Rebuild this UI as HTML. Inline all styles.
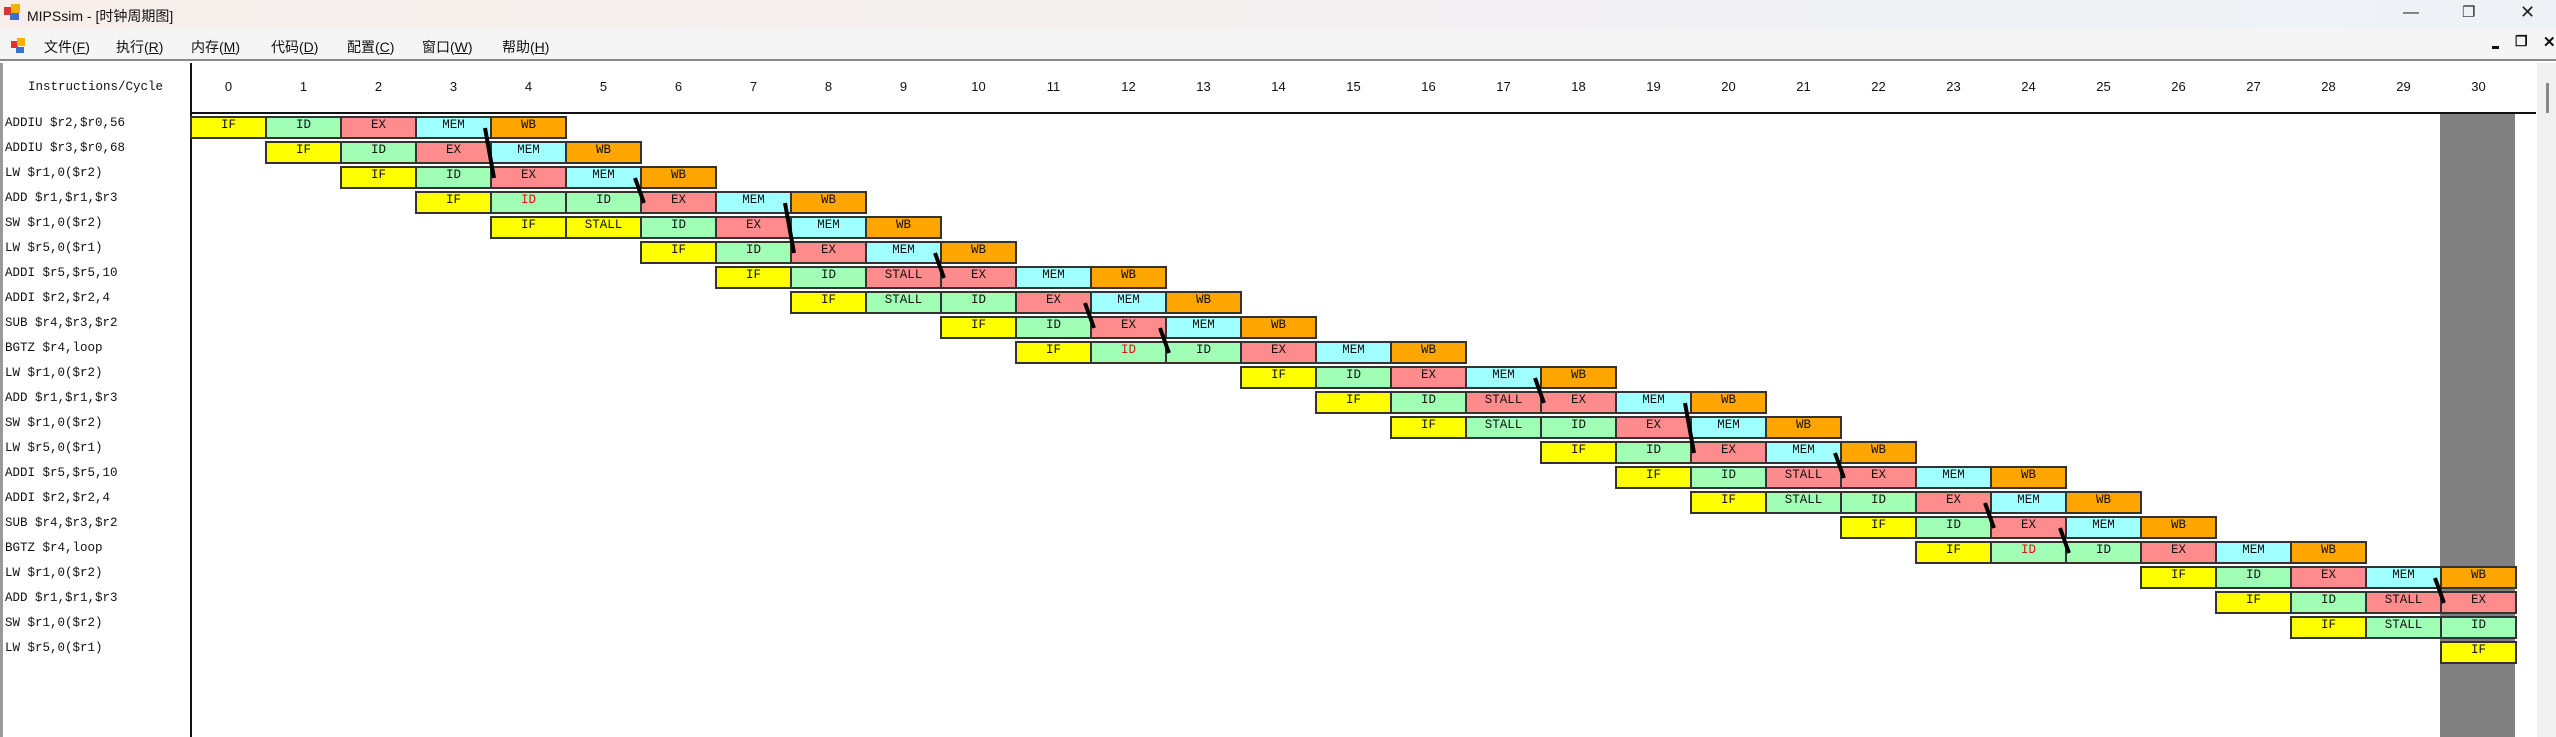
<!DOCTYPE html>
<html><head><meta charset="utf-8"><style>
*{margin:0;padding:0;box-sizing:border-box}
body{width:2556px;height:737px;position:relative;overflow:hidden;background:#fff;font-family:"Liberation Sans","Noto Sans CJK SC",sans-serif}
.tb{position:absolute;left:0;top:0;width:2556px;height:29px;background:linear-gradient(90deg,#f7eeea,#eef2f7)}
.mb{position:absolute;left:0;top:29px;width:2556px;height:32px;background:#f5f5f5;border-bottom:2px solid #8a8a8a}
.t{position:absolute;white-space:nowrap}
.mi{position:absolute;top:37px;font-size:14px;color:#111}
.r{position:absolute;left:0;width:2556px;height:23px}
.c{position:absolute;top:0;width:77px;height:23px;border:2px solid #333;text-align:center;line-height:19px;font:12.5px "Liberation Mono",monospace;color:#111}
.f{background:#ffff00}.d{background:#a0ffb4}.e{background:#ff8c8c}.m{background:#a0ffff}.w{background:#ffa500}
.red{color:#e01010}
.l{position:absolute;left:5px;top:0;line-height:23px;font:12.5px "Liberation Mono",monospace;color:#111;white-space:nowrap}
.n{position:absolute;top:79px;font-size:13px;color:#111;width:75px;text-align:center}
</style></head><body>
<div class="tb"></div>
<div style="position:absolute;left:4px;top:7px;width:8px;height:8px;background:#d33"></div>
<div style="position:absolute;left:11px;top:4px;width:9px;height:9px;background:#f5b000"></div>
<div style="position:absolute;left:10px;top:13px;width:9px;height:7px;background:#3a6fd0"></div>
<div class="t" style="left:27px;top:6px;font-size:14px;color:#111">MIPSsim - [时钟周期图]</div>
<div class="t" style="left:2403px;top:4px;font-size:16px;color:#222">—</div>
<div class="t" style="left:2462px;top:3px;font-size:15px;color:#222">❐</div>
<div class="t" style="left:2520px;top:2px;font-size:18px;color:#222">✕</div>
<div class="mb"></div>
<div style="position:absolute;left:11px;top:41px;width:7px;height:7px;background:#d33"></div>
<div style="position:absolute;left:17px;top:38px;width:8px;height:8px;background:#f5b000"></div>
<div style="position:absolute;left:16px;top:47px;width:8px;height:6px;background:#3a6fd0"></div>
<div class="mi" style="left:44px">文件(<u>F</u>)</div>
<div class="mi" style="left:116px">执行(<u>R</u>)</div>
<div class="mi" style="left:191px">内存(<u>M</u>)</div>
<div class="mi" style="left:271px">代码(<u>D</u>)</div>
<div class="mi" style="left:347px">配置(<u>C</u>)</div>
<div class="mi" style="left:422px">窗口(<u>W</u>)</div>
<div class="mi" style="left:502px">帮助(<u>H</u>)</div>
<div style="position:absolute;left:2492px;top:46px;width:7px;height:3px;background:#111"></div>
<div class="t" style="left:2515px;top:33px;font-size:14px;font-weight:bold;color:#111">❐</div>
<div class="t" style="left:2543px;top:33px;font-size:15px;font-weight:bold;color:#111">✕</div>
<!-- content -->
<div style="position:absolute;left:0;top:63px;width:3px;height:674px;background:#9a9a9a"></div>
<div style="position:absolute;left:2537px;top:63px;width:19px;height:674px;background:#f0f0f0"></div>
<div style="position:absolute;left:2546px;top:83px;width:3px;height:30px;background:#888"></div>
<div style="position:absolute;left:2440px;top:114px;width:75px;height:623px;background:#808080"></div>
<div style="position:absolute;left:190px;top:63px;width:2px;height:674px;background:#111"></div>
<div style="position:absolute;left:190px;top:112px;width:2346px;height:2px;background:#111"></div>
<div class="t" style="left:28px;top:80px;font:12.5px 'Liberation Mono',monospace;color:#111">Instructions/Cycle</div>
<div class="n" style="left:191px">0</div><div class="n" style="left:266px">1</div><div class="n" style="left:341px">2</div><div class="n" style="left:416px">3</div><div class="n" style="left:491px">4</div><div class="n" style="left:566px">5</div><div class="n" style="left:641px">6</div><div class="n" style="left:716px">7</div><div class="n" style="left:791px">8</div><div class="n" style="left:866px">9</div><div class="n" style="left:941px">10</div><div class="n" style="left:1016px">11</div><div class="n" style="left:1091px">12</div><div class="n" style="left:1166px">13</div><div class="n" style="left:1241px">14</div><div class="n" style="left:1316px">15</div><div class="n" style="left:1391px">16</div><div class="n" style="left:1466px">17</div><div class="n" style="left:1541px">18</div><div class="n" style="left:1616px">19</div><div class="n" style="left:1691px">20</div><div class="n" style="left:1766px">21</div><div class="n" style="left:1841px">22</div><div class="n" style="left:1916px">23</div><div class="n" style="left:1991px">24</div><div class="n" style="left:2066px">25</div><div class="n" style="left:2141px">26</div><div class="n" style="left:2216px">27</div><div class="n" style="left:2291px">28</div><div class="n" style="left:2366px">29</div><div class="n" style="left:2441px">30</div>

<div class="r" style="top:116px"><div class="l">ADDIU $r2,$r0,56</div><div class="c f" style="left:190px">IF</div><div class="c d" style="left:265px">ID</div><div class="c e" style="left:340px">EX</div><div class="c m" style="left:415px">MEM</div><div class="c w" style="left:490px">WB</div></div>
<div class="r" style="top:141px"><div class="l">ADDIU $r3,$r0,68</div><div class="c f" style="left:265px">IF</div><div class="c d" style="left:340px">ID</div><div class="c e" style="left:415px">EX</div><div class="c m" style="left:490px">MEM</div><div class="c w" style="left:565px">WB</div></div>
<div class="r" style="top:166px"><div class="l">LW $r1,0($r2)</div><div class="c f" style="left:340px">IF</div><div class="c d" style="left:415px">ID</div><div class="c e" style="left:490px">EX</div><div class="c m" style="left:565px">MEM</div><div class="c w" style="left:640px">WB</div></div>
<div class="r" style="top:191px"><div class="l">ADD $r1,$r1,$r3</div><div class="c f" style="left:415px">IF</div><div class="c d red" style="left:490px">ID</div><div class="c d" style="left:565px">ID</div><div class="c e" style="left:640px">EX</div><div class="c m" style="left:715px">MEM</div><div class="c w" style="left:790px">WB</div></div>
<div class="r" style="top:216px"><div class="l">SW $r1,0($r2)</div><div class="c f" style="left:490px">IF</div><div class="c f" style="left:565px">STALL</div><div class="c d" style="left:640px">ID</div><div class="c e" style="left:715px">EX</div><div class="c m" style="left:790px">MEM</div><div class="c w" style="left:865px">WB</div></div>
<div class="r" style="top:241px"><div class="l">LW $r5,0($r1)</div><div class="c f" style="left:640px">IF</div><div class="c d" style="left:715px">ID</div><div class="c e" style="left:790px">EX</div><div class="c m" style="left:865px">MEM</div><div class="c w" style="left:940px">WB</div></div>
<div class="r" style="top:266px"><div class="l">ADDI $r5,$r5,10</div><div class="c f" style="left:715px">IF</div><div class="c d" style="left:790px">ID</div><div class="c e" style="left:865px">STALL</div><div class="c e" style="left:940px">EX</div><div class="c m" style="left:1015px">MEM</div><div class="c w" style="left:1090px">WB</div></div>
<div class="r" style="top:291px"><div class="l">ADDI $r2,$r2,4</div><div class="c f" style="left:790px">IF</div><div class="c d" style="left:865px">STALL</div><div class="c d" style="left:940px">ID</div><div class="c e" style="left:1015px">EX</div><div class="c m" style="left:1090px">MEM</div><div class="c w" style="left:1165px">WB</div></div>
<div class="r" style="top:316px"><div class="l">SUB $r4,$r3,$r2</div><div class="c f" style="left:940px">IF</div><div class="c d" style="left:1015px">ID</div><div class="c e" style="left:1090px">EX</div><div class="c m" style="left:1165px">MEM</div><div class="c w" style="left:1240px">WB</div></div>
<div class="r" style="top:341px"><div class="l">BGTZ $r4,loop</div><div class="c f" style="left:1015px">IF</div><div class="c d red" style="left:1090px">ID</div><div class="c d" style="left:1165px">ID</div><div class="c e" style="left:1240px">EX</div><div class="c m" style="left:1315px">MEM</div><div class="c w" style="left:1390px">WB</div></div>
<div class="r" style="top:366px"><div class="l">LW $r1,0($r2)</div><div class="c f" style="left:1240px">IF</div><div class="c d" style="left:1315px">ID</div><div class="c e" style="left:1390px">EX</div><div class="c m" style="left:1465px">MEM</div><div class="c w" style="left:1540px">WB</div></div>
<div class="r" style="top:391px"><div class="l">ADD $r1,$r1,$r3</div><div class="c f" style="left:1315px">IF</div><div class="c d" style="left:1390px">ID</div><div class="c e" style="left:1465px">STALL</div><div class="c e" style="left:1540px">EX</div><div class="c m" style="left:1615px">MEM</div><div class="c w" style="left:1690px">WB</div></div>
<div class="r" style="top:416px"><div class="l">SW $r1,0($r2)</div><div class="c f" style="left:1390px">IF</div><div class="c d" style="left:1465px">STALL</div><div class="c d" style="left:1540px">ID</div><div class="c e" style="left:1615px">EX</div><div class="c m" style="left:1690px">MEM</div><div class="c w" style="left:1765px">WB</div></div>
<div class="r" style="top:441px"><div class="l">LW $r5,0($r1)</div><div class="c f" style="left:1540px">IF</div><div class="c d" style="left:1615px">ID</div><div class="c e" style="left:1690px">EX</div><div class="c m" style="left:1765px">MEM</div><div class="c w" style="left:1840px">WB</div></div>
<div class="r" style="top:466px"><div class="l">ADDI $r5,$r5,10</div><div class="c f" style="left:1615px">IF</div><div class="c d" style="left:1690px">ID</div><div class="c e" style="left:1765px">STALL</div><div class="c e" style="left:1840px">EX</div><div class="c m" style="left:1915px">MEM</div><div class="c w" style="left:1990px">WB</div></div>
<div class="r" style="top:491px"><div class="l">ADDI $r2,$r2,4</div><div class="c f" style="left:1690px">IF</div><div class="c d" style="left:1765px">STALL</div><div class="c d" style="left:1840px">ID</div><div class="c e" style="left:1915px">EX</div><div class="c m" style="left:1990px">MEM</div><div class="c w" style="left:2065px">WB</div></div>
<div class="r" style="top:516px"><div class="l">SUB $r4,$r3,$r2</div><div class="c f" style="left:1840px">IF</div><div class="c d" style="left:1915px">ID</div><div class="c e" style="left:1990px">EX</div><div class="c m" style="left:2065px">MEM</div><div class="c w" style="left:2140px">WB</div></div>
<div class="r" style="top:541px"><div class="l">BGTZ $r4,loop</div><div class="c f" style="left:1915px">IF</div><div class="c d red" style="left:1990px">ID</div><div class="c d" style="left:2065px">ID</div><div class="c e" style="left:2140px">EX</div><div class="c m" style="left:2215px">MEM</div><div class="c w" style="left:2290px">WB</div></div>
<div class="r" style="top:566px"><div class="l">LW $r1,0($r2)</div><div class="c f" style="left:2140px">IF</div><div class="c d" style="left:2215px">ID</div><div class="c e" style="left:2290px">EX</div><div class="c m" style="left:2365px">MEM</div><div class="c w" style="left:2440px">WB</div></div>
<div class="r" style="top:591px"><div class="l">ADD $r1,$r1,$r3</div><div class="c f" style="left:2215px">IF</div><div class="c d" style="left:2290px">ID</div><div class="c e" style="left:2365px">STALL</div><div class="c e" style="left:2440px">EX</div></div>
<div class="r" style="top:616px"><div class="l">SW $r1,0($r2)</div><div class="c f" style="left:2290px">IF</div><div class="c d" style="left:2365px">STALL</div><div class="c d" style="left:2440px">ID</div></div>
<div class="r" style="top:641px"><div class="l">LW $r5,0($r1)</div><div class="c f" style="left:2440px">IF</div></div>

<svg style="position:absolute;left:0;top:0" width="2556" height="737">
<g stroke="#000" stroke-width="4" stroke-linecap="butt">
<line x1="485" y1="128" x2="494" y2="178"/>
<line x1="635" y1="178" x2="644" y2="203"/>
<line x1="785" y1="203" x2="794" y2="253"/>
<line x1="935" y1="253" x2="944" y2="278"/>
<line x1="1085" y1="303" x2="1094" y2="328"/>
<line x1="1160" y1="328" x2="1169" y2="353"/>
<line x1="1535" y1="378" x2="1544" y2="403"/>
<line x1="1685" y1="403" x2="1694" y2="453"/>
<line x1="1835" y1="453" x2="1844" y2="478"/>
<line x1="1985" y1="503" x2="1994" y2="528"/>
<line x1="2060" y1="528" x2="2069" y2="553"/>
<line x1="2435" y1="578" x2="2444" y2="603"/>
</g></svg>
</body></html>
